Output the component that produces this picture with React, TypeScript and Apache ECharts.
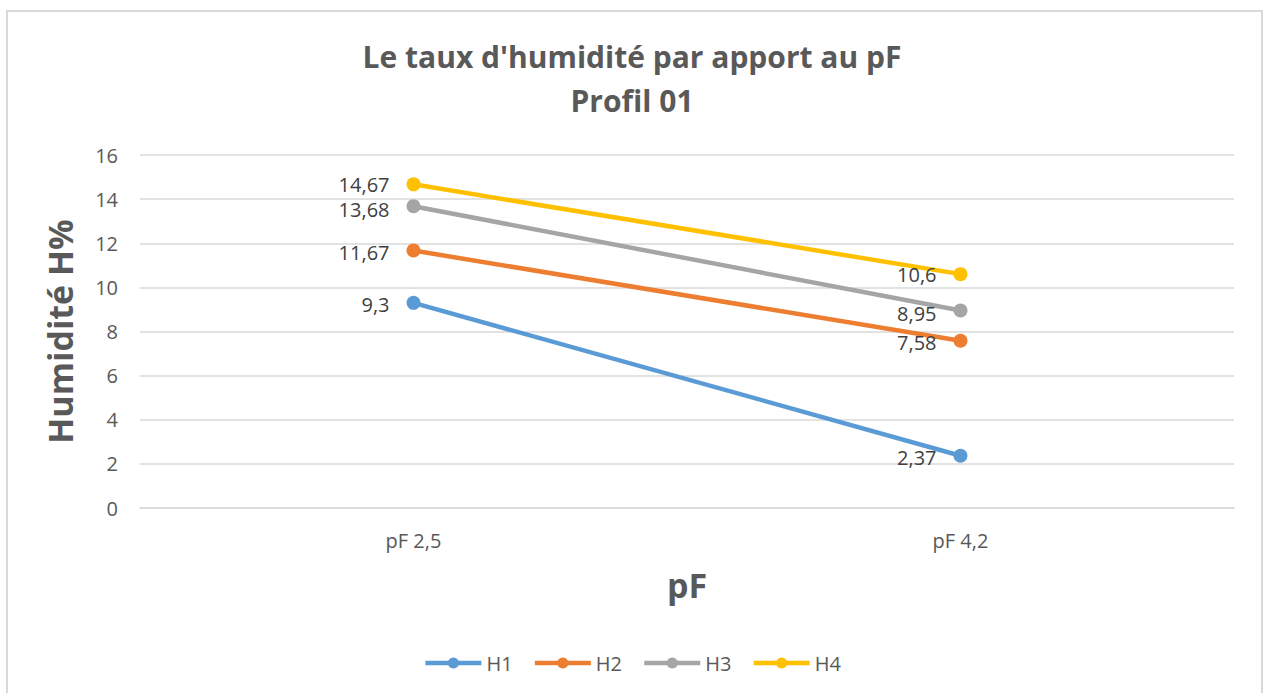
import React, { useEffect, useRef } from "react";
import * as echarts from "echarts";

const categories = ["pF 2,5", "pF 4,2"];
const seriesNames = ["H1", "H2", "H3", "H4"];
const h1 = [9.3, 2.37];
const h2 = [11.67, 7.58];
const h3 = [13.68, 8.95];
const h4 = [14.67, 10.6];
const colors = ["#5B9BD5", "#ED7D31", "#A5A5A5", "#FFC000"];
const labelOffsets = [[0, 2], [0, 2], [0, 3], [0, 0]];

const FONT = "'Open Sans', sans-serif";

export default function App() {
  const ref = useRef<HTMLDivElement>(null);
  useEffect(() => {
    if (!ref.current) return;
    const chart = echarts.init(ref.current, undefined, { renderer: "svg" });
    const data = [h1, h2, h3, h4];
    chart.setOption({
      animation: false,
      textStyle: { fontFamily: FONT },
      title: {
        text: "Le taux d'humidité par apport au pF\nProfil 01",
        left: "center",
        top: 29,
        textStyle: {
          fontFamily: FONT,
          fontSize: 30,
          fontWeight: "bold",
          color: "#595959",
          lineHeight: 44,
        },
      },
      graphic: [
        {
          type: "rect",
          shape: { x: 7, y: 11, width: 1255, height: 700 },
          style: { fill: "none", stroke: "#d9d9d9", lineWidth: 2 },
          silent: true,
        },
      ],
      legend: {
        data: seriesNames,
        top: 648,
        left: "center",
        itemWidth: 56,
        itemHeight: 14,
        itemGap: 20,
        lineStyle: { width: 4.5 },
        textStyle: { fontFamily: FONT, fontSize: 20, color: "#595959" },
      },
      grid: { left: 140, right: 30, top: 155, bottom: 185 },
      xAxis: {
        type: "category",
        data: categories,
        boundaryGap: true,
        name: "pF",
        nameLocation: "middle",
        nameGap: 60,
        nameTextStyle: { fontFamily: FONT, fontSize: 34, fontWeight: "bold", color: "#595959" },
        axisLine: { show: true, lineStyle: { color: "#d9d9d9", width: 1.5 } },
        axisTick: { show: false },
        axisLabel: { fontFamily: FONT, fontSize: 20, color: "#595959", margin: 22 },
      },
      yAxis: {
        type: "value",
        min: 0,
        max: 16,
        interval: 2,
        name: "Humidité H%",
        nameLocation: "middle",
        nameGap: 63,
        nameRotate: 90,
        nameTextStyle: { fontFamily: FONT, fontSize: 34, fontWeight: "bold", color: "#595959" },
        axisLine: { show: false },
        axisTick: { show: false },
        axisLabel: { fontFamily: FONT, fontSize: 20, color: "#595959", margin: 22 },
        splitLine: { lineStyle: { color: "#d9d9d9", width: 1.5 } },
      },
      series: seriesNames.map((name, i) => ({
        name,
        type: "line",
        data: data[i],
        symbol: "circle",
        symbolSize: 14,
        lineStyle: { width: 4.5, color: colors[i] },
        itemStyle: { color: colors[i] },
        label: {
          show: true,
          position: "left",
          distance: 17,
          offset: labelOffsets[i],
          fontFamily: FONT,
          fontSize: 20,
          lineHeight: 19,
          color: "#404040",
          formatter: (p: any) => String(p.value).replace(".", ","),
        },
      })),
    });
    return () => chart.dispose();
  }, []);
  return (
    <div
      ref={ref}
      style={{ position: "absolute", left: 0, top: 0, width: 1264, height: 693 }}
    />
  );
}
